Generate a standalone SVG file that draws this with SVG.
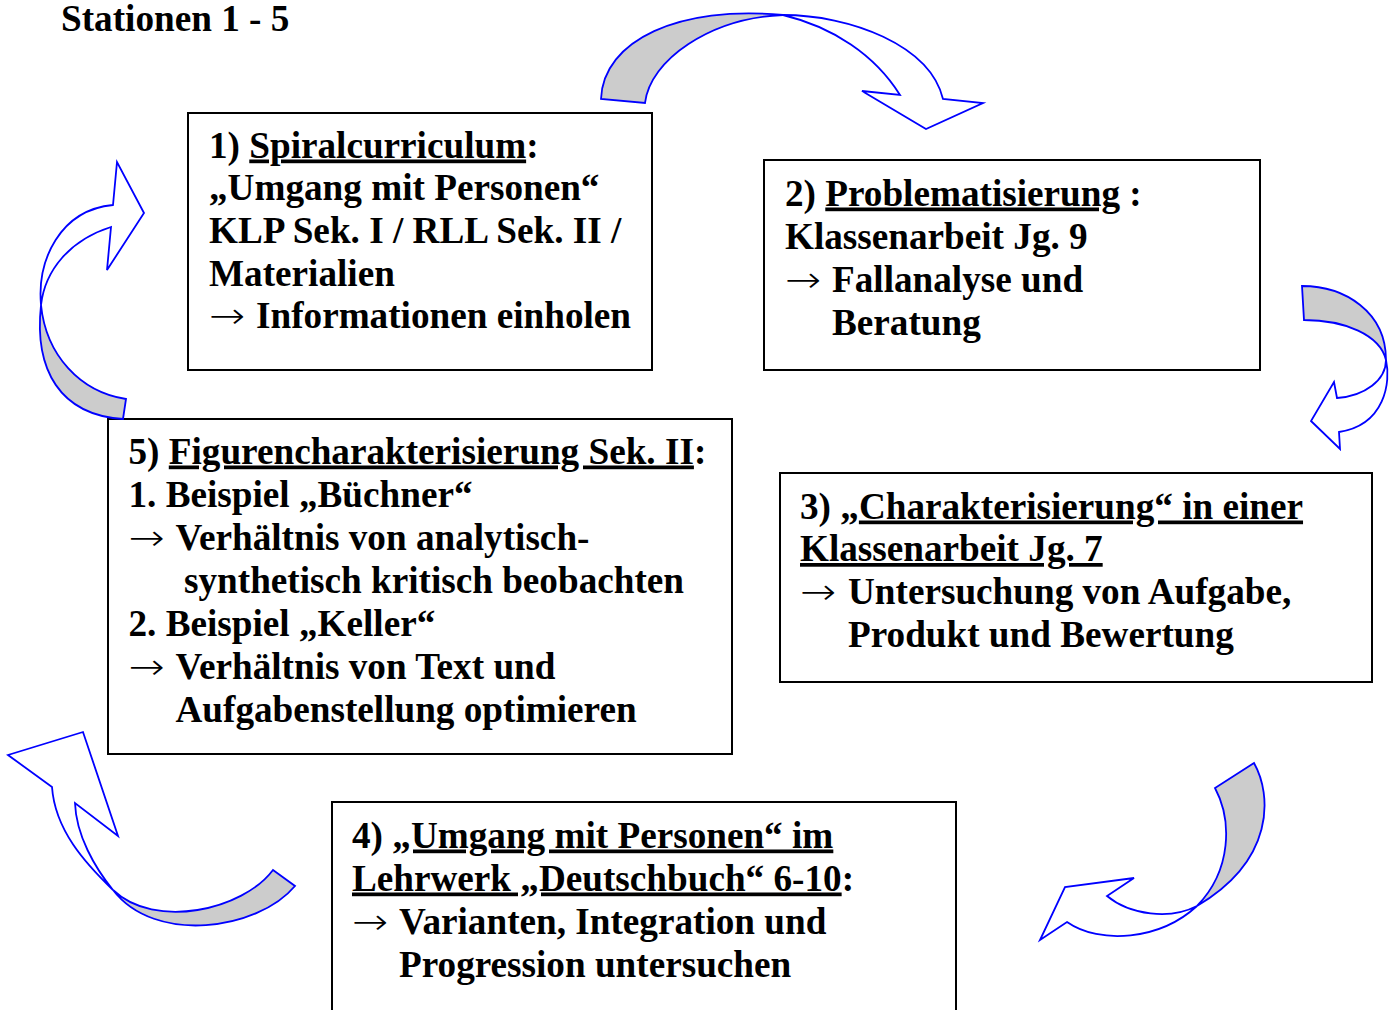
<svg xmlns="http://www.w3.org/2000/svg" width="1394" height="1010" viewBox="0 0 1394 1010">
<style>
text{font-family:"Liberation Serif","Times New Roman",serif;font-weight:bold;font-size:37.2px;fill:#000}
text.ar{font-family:"DejaVu Sans",sans-serif;font-weight:200;font-size:36px}
.u{text-decoration:underline;text-decoration-thickness:3px}
.box{fill:#fff;stroke:#000;stroke-width:2}
.grey{fill:#cccccc;stroke:#0000ff;stroke-width:1.8;stroke-linejoin:miter}
.white{fill:#fff;stroke:#0000ff;stroke-width:1.8;stroke-linejoin:miter}
</style>
<rect width="1394" height="1010" fill="#fff"/>
<text x="61" y="31">Stationen 1 - 5</text>

<g id="node1">
<rect class="box" x="188" y="113" width="464" height="257"/>
<text x="209" y="157.5">1) <tspan class="u">Spiralcurriculum</tspan>:</text>
<text x="209" y="200">„Umgang mit Personen“</text>
<text x="209" y="243">KLP Sek. I / RLL Sek. II /</text>
<text x="209" y="285.5">Materialien</text>
<text class="ar" transform="translate(209,328) scale(1.2,1)">→</text>
<text x="256" y="328">Informationen einholen</text>
</g>

<g id="node2">
<rect class="box" x="764" y="160" width="496" height="210"/>
<text x="785" y="205.5">2) <tspan class="u">Problematisierung</tspan> :</text>
<text x="785" y="248.5">Klassenarbeit Jg. 9</text>
<text class="ar" transform="translate(785,291.5) scale(1.2,1)">→</text>
<text x="832" y="291.5">Fallanalyse und</text>
<text x="832" y="334.5">Beratung</text>
</g>

<g id="node3">
<rect class="box" x="780" y="473" width="592" height="209"/>
<text x="800" y="518.5">3) „<tspan class="u">Charakterisierung“ in einer</tspan></text>
<text x="800" y="561"><tspan class="u">Klassenarbeit Jg. 7</tspan></text>
<text class="ar" transform="translate(800,604) scale(1.2,1)">→</text>
<text x="848" y="604">Untersuchung von Aufgabe,</text>
<text x="848" y="647">Produkt und Bewertung</text>
</g>

<g id="node5">
<rect class="box" x="108" y="419" width="624" height="335"/>
<text x="128.5" y="463.5">5) <tspan class="u">Figurencharakterisierung Sek. II</tspan>:</text>
<text x="128.5" y="506.5">1. Beispiel „Büchner“</text>
<text class="ar" transform="translate(128.5,549.5) scale(1.2,1)">→</text>
<text x="175.5" y="549.5">Verhältnis von analytisch-</text>
<text x="184" y="592.5">synthetisch kritisch beobachten</text>
<text x="128.5" y="635.5">2. Beispiel „Keller“</text>
<text class="ar" transform="translate(128.5,678.5) scale(1.2,1)">→</text>
<text x="175.5" y="678.5">Verhältnis von Text und</text>
<text x="175.5" y="721.5">Aufgabenstellung optimieren</text>
</g>

<g id="node4">
<rect class="box" x="332" y="802" width="624" height="230"/>
<text x="352" y="847.5">4) <tspan class="u">„Umgang mit Personen“ im</tspan></text>
<text x="352" y="890.5"><tspan class="u">Lehrwerk „Deutschbuch“ 6-10</tspan>:</text>
<text class="ar" transform="translate(352,933.5) scale(1.2,1)">→</text>
<text x="399" y="933.5">Varianten, Integration und</text>
<text x="399" y="977">Progression untersuchen</text>
</g>

<g id="connectors">
<g id="arrow1">
<path class="grey" d="M601,99 C603,40 680,5 783,15 C710,18 650,60 645,103 Z"/>
<path class="white" d="M783,15 C833,27 875,55 900,95 L862,91 L926,129 L983,103 L943,99 C930,45 850,15 783,15 Z"/>
</g>
<g id="arrow2">
<path class="grey" d="M1302,286 C1345,286 1386,312 1386,360 C1380,335 1345,320 1304,320 Z"/>
<path class="white" d="M1386,360 C1386,380 1365,396 1337,398 L1334,382 L1311,421 L1340,449 L1339,432 C1385,425 1391,382 1386,360 Z"/>
</g>
<g id="arrow3">
<path class="grey" d="M1254,763 C1272,795 1275,860 1197,906 C1232,870 1232,820 1215,788 Z"/>
<path class="white" d="M1197,906 C1170,920 1130,915 1107,896 L1134,878 L1065,887 L1040,940 L1067,922 C1100,945 1160,940 1197,906 Z"/>
</g>
<g id="arrow4">
<path class="grey" d="M295,886 C258,930 155,945 113,890 C155,930 243,910 273,870 Z"/>
<path class="white" d="M113,890 C95,868 76,835 75,803 L118,836 L83,732 L8,755 L52,787 C55,830 85,863 113,890 Z"/>
</g>
<g id="arrow5">
<path class="grey" d="M123,419 C60,415 34,370 41,305 C46,355 80,392 126,399 Z"/>
<path class="white" d="M41,305 C45,270 70,240 111,227 L107,270 L144,213 L117,162 L113,205 C60,210 37,260 41,305 Z"/>
</g>
</g>
</svg>
